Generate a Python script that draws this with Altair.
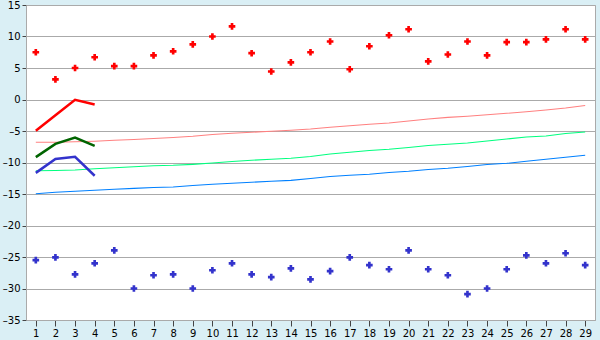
import altair as alt
import pandas as pd

days = list(range(1, 30))

red_pts = [7.5, 3.2, 5.0, 6.7, 5.3, 5.3, 7.0, 7.65, 8.75, 10.0, 11.6, 7.35, 4.45, 5.9, 7.5,
           9.2, 4.8, 8.45, 10.2, 11.15, 6.05, 7.15, 9.2, 7.0, 9.1, 9.1, 9.55, 11.15, 9.55]
blue_pts = [-25.5, -25.05, -27.75, -26.0, -23.95, -30.0, -27.9, -27.75, -30.0, -27.1, -26.0,
            -27.75, -28.2, -26.8, -28.55, -27.25, -25.05, -26.3, -26.95, -23.95, -26.95,
            -27.9, -30.9, -30.0, -26.95, -24.75, -26.0, -24.4, -26.3]

thick_x = [1, 2, 3, 4]
thick_red = [-4.95, -2.5, -0.05, -0.8]
thick_green = [-9.15, -7.05, -6.05, -7.35]
thick_blue = [-11.65, -9.45, -9.1, -12.1]

thin_pink = [-6.79, -6.78, -6.71, -6.62, -6.48, -6.35, -6.19, -6.03, -5.83, -5.56, -5.35,
             -5.19, -5.03, -4.87, -4.68, -4.41, -4.16, -3.94, -3.73, -3.41, -3.10, -2.83,
             -2.65, -2.43, -2.19, -1.95, -1.67, -1.35, -0.95]
thin_green = [-11.32, -11.27, -11.19, -10.98, -10.83, -10.67, -10.51, -10.44, -10.29, -10.08,
              -9.84, -9.65, -9.49, -9.33, -9.05, -8.65, -8.38, -8.10, -7.90, -7.62, -7.30,
              -7.11, -6.90, -6.59, -6.27, -5.95, -5.79, -5.40, -5.16]
thin_blue = [-14.95, -14.73, -14.57, -14.41, -14.25, -14.10, -13.97, -13.89, -13.65, -13.46,
             -13.30, -13.14, -12.98, -12.83, -12.54, -12.22, -12.03, -11.87, -11.59, -11.40,
             -11.11, -10.92, -10.63, -10.32, -10.13, -9.81, -9.49, -9.17, -8.86]

y_ticks = list(range(-35, 16, 5))


def frame(xs, ys, name):
    return pd.DataFrame({"x": xs, "y": ys, "s": name})


pts = pd.concat([frame(days, red_pts, "rp"), frame(days, blue_pts, "bp")])
thick = pd.concat([frame(thick_x, thick_red, "tr"), frame(thick_x, thick_green, "tg"),
                   frame(thick_x, thick_blue, "tb")])
thin = pd.concat([frame(days, thin_pink, "np"), frame(days, thin_green, "ng"),
                  frame(days, thin_blue, "nb")])

color_scale = alt.Scale(
    domain=["rp", "bp", "tr", "tg", "tb", "np", "ng", "nb"],
    range=["#ff0000", "#3333cc", "#ff0000", "#006400", "#3333cc", "#ff8080", "#00ff7f", "#0080ff"],
)

x_enc = alt.X(
    "x:O",
    scale=alt.Scale(type="point", padding=0.5, domain=days),
    axis=alt.Axis(title=None, labelAngle=0, grid=False, tickSize=6, labelPadding=2,
                  domainColor="#aaaaaa", tickColor="#444444", labelColor="#000000",
                  labelFont="DejaVu Sans", labelFontSize=10),
)
y_enc = alt.Y(
    "y:Q",
    scale=alt.Scale(domain=[-35, 15], nice=False, zero=False),
    axis=alt.Axis(title=None, values=y_ticks, grid=True, gridColor="#aaaaaa", tickSize=4,
                  labelPadding=2, domainColor="#aaaaaa", tickColor="#444444",
                  labelColor="#000000", labelFont="DejaVu Sans", labelFontSize=10,
                  labelExpr="datum.value < 0 ? '–' + abs(datum.value) : '' + datum.value"),
)
c_enc = alt.Color("s:N", scale=color_scale, legend=None)

thin_layer = alt.Chart(thin).mark_line(strokeWidth=1.1).encode(x=x_enc, y=y_enc, color=c_enc, detail="s:N")
thick_layer = alt.Chart(thick).mark_line(strokeWidth=2.5).encode(x=x_enc, y=y_enc, color=c_enc, detail="s:N")
pt_layer = alt.Chart(pts).mark_point(shape="cross", filled=True, size=44, opacity=1).encode(
    x=x_enc, y=y_enc, color=c_enc)

chart = alt.layer(thin_layer, thick_layer, pt_layer).properties(
    width=569, height=315,
    autosize="none",
    padding={"left": 26, "top": 5, "right": 5, "bottom": 20},
    background="#daeff5",
).configure_view(fill="#ffffff", stroke="#aaaaaa", strokeWidth=1)

chart.save("out.html", embed_options={"renderer": "svg", "actions": False})
